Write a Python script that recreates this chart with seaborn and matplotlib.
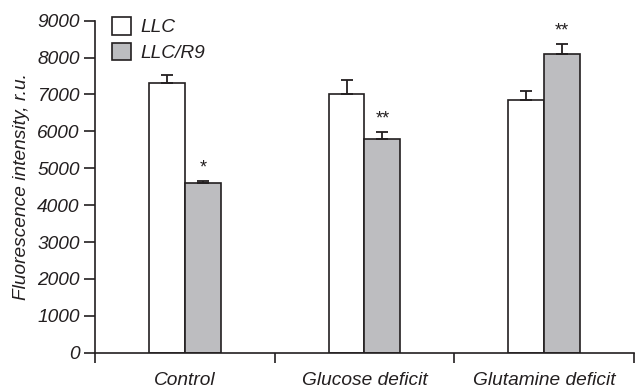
import numpy as np
import pandas as pd
import matplotlib
matplotlib.use("Agg")
import matplotlib.pyplot as plt
from matplotlib.patches import Patch
import seaborn as sns

# Mean fluorescence and SEM per condition
categories = ["Control", "Glucose deficit", "Glutamine deficit"]
cell_lines = ["LLC", "LLC/R9"]
llc_mean = [7320, 7020, 6850]
llc_err = [200, 370, 250]
r9_mean = [4600, 5800, 8100]
r9_err = [50, 180, 270]
r9_signif = ["*", "**", "**"]
yticks = [0, 1000, 2000, 3000, 4000, 5000, 6000, 7000, 8000, 9000]

df = pd.DataFrame({
    "condition": categories * 2,
    "line": [cell_lines[0]] * 3 + [cell_lines[1]] * 3,
    "value": llc_mean + r9_mean,
    "err": llc_err + r9_err,
})

sns.set_style("ticks")
plt.rcParams["font.family"] = ["Liberation Sans", "DejaVu Sans"]
plt.rcParams["font.style"] = "italic"

ink = "#231f20"
fills = {"LLC": "#ffffff", "LLC/R9": "#bcbdc0"}
fs = 13.8

fig = plt.figure(figsize=(6.35, 3.9), dpi=100)
ax = fig.add_axes([0.1496, 0.0956, 0.8488, 0.8514])

sns.barplot(data=df, x="condition", y="value", hue="line",
            order=categories, hue_order=cell_lines, palette=fills,
            width=0.4, errorbar=None, edgecolor=ink, linewidth=1.2,
            legend=False, ax=ax)

# Upper error bars and significance marks, placed on the drawn bars
bars = [p for p in ax.patches if p.get_height() > 0]
bars.sort(key=lambda p: p.get_x())
lookup = {(c, l): (v, e) for c, l, v, e in zip(df.condition, df.line, df.value, df.err)}
for i, cat in enumerate(categories):
    for j, line in enumerate(cell_lines):
        v, e = lookup[(cat, line)]
        patch = bars[2 * i + j]
        xc = patch.get_x() + patch.get_width() / 2
        ax.errorbar([xc], [v], yerr=[[0], [e]], fmt="none", ecolor=ink,
                    elinewidth=1.3, capsize=4, capthick=1.3, zorder=3)
        if line == "LLC/R9":
            ax.text(xc, v + e + 130, r9_signif[i], ha="center", va="bottom",
                    fontsize=13, color=ink, fontstyle="normal")

ax.set_xlim(-0.5, 2.5)
ax.set_ylim(0, 9000)
ax.set_yticks(yticks)
ax.set_yticklabels([str(t) for t in yticks], fontsize=fs, color=ink, fontstyle="italic")
ax.set_xticks(range(len(categories)))
ax.set_xticklabels(categories, fontsize=fs, color=ink, fontstyle="italic")
ax.set_xticks([-0.5, 0.5, 1.5, 2.5], minor=True)
ax.tick_params(axis="x", which="major", length=0, pad=14)
ax.tick_params(axis="x", which="minor", length=7, width=1.2, color=ink, direction="out")
ax.tick_params(axis="y", length=8, width=1.2, color=ink, pad=3)
ax.set_xlabel("")
ax.set_ylabel("Fluorescence intensity, r.u.", fontsize=fs, color=ink,
              fontstyle="italic", labelpad=5)

for side in ["top", "right"]:
    ax.spines[side].set_visible(False)
for side in ["left", "bottom"]:
    ax.spines[side].set_color(ink)
    ax.spines[side].set_linewidth(1.2)

handles = [Patch(facecolor=fills[l], edgecolor=ink, linewidth=1.2, label=l) for l in cell_lines]
leg = ax.legend(handles=handles, loc="upper left", bbox_to_anchor=(0.031, 1.01),
                frameon=False, fontsize=fs, handlelength=1.0, handleheight=1.0,
                handletextpad=0.5, labelspacing=0.35, borderpad=0.0, borderaxespad=0.0)
for t in leg.get_texts():
    t.set_fontstyle("italic")
    t.set_color(ink)

fig.savefig("out.png", dpi=100)
